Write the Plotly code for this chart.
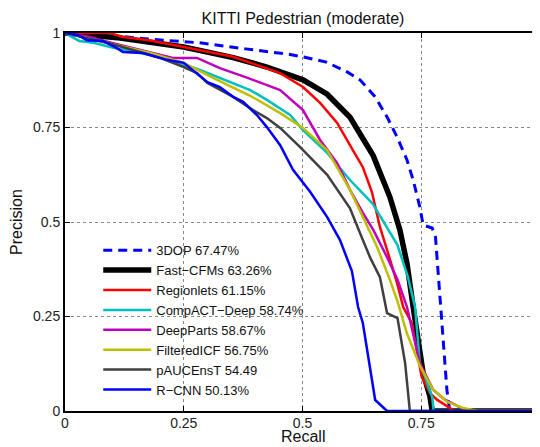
import plotly.graph_objects as go

names = ["3DOP 67.47%", "Fast\u2212CFMs 63.26%", "Regionlets 61.15%", "CompACT\u2212Deep 58.74%",
         "DeepParts 58.67%", "FilteredICF 56.75%", "pAUCEnsT 54.49", "R\u2212CNN 50.13%"]

x_3dop = [0, 0.05, 0.1, 0.175, 0.284, 0.38, 0.47, 0.50, 0.55, 0.594, 0.621, 0.653, 0.678, 0.699, 0.72, 0.733, 0.747, 0.754, 0.773, 0.78, 0.804, 0.81, 1.0]
y_3dop = [1, 0.997, 0.993, 0.984, 0.974, 0.958, 0.944, 0.937, 0.923, 0.897, 0.876, 0.831, 0.778, 0.725, 0.664, 0.611, 0.540, 0.492, 0.484, 0.46, 0.056, 0.0, 0.0]

x_fast = [0, 0.05, 0.116, 0.25, 0.354, 0.425, 0.48, 0.501, 0.552, 0.60, 0.649, 0.684, 0.705, 0.72, 0.733, 0.754, 0.768, 0.773, 1.0]
y_fast = [1, 0.995, 0.987, 0.963, 0.935, 0.91, 0.884, 0.876, 0.838, 0.777, 0.675, 0.566, 0.479, 0.39, 0.275, 0.10, 0.04, 0.0, 0.0]

x_reg = [0, 0.095, 0.12, 0.18, 0.25, 0.354, 0.453, 0.501, 0.537, 0.573, 0.606, 0.627, 0.646, 0.663, 0.68, 0.699, 0.712, 0.73, 0.751, 0.768, 0.783, 0.81, 0.82, 1.0]
y_reg = [1, 1.0, 0.99, 0.98, 0.963, 0.937, 0.894, 0.857, 0.815, 0.762, 0.69, 0.645, 0.58, 0.487, 0.418, 0.339, 0.275, 0.233, 0.09, 0.048, 0.03, 0.008, 0.0, 0.0]

x_comp = [0, 0.03, 0.06, 0.095, 0.18, 0.236, 0.284, 0.354, 0.39, 0.425, 0.453, 0.474, 0.501, 0.552, 0.60, 0.648, 0.70, 0.722, 0.737, 0.747, 0.773, 0.776, 1.0]
y_comp = [1, 0.979, 0.974, 0.963, 0.942, 0.923, 0.902, 0.868, 0.849, 0.823, 0.80, 0.783, 0.743, 0.683, 0.611, 0.548, 0.439, 0.354, 0.275, 0.127, 0.037, 0.0, 0.0]

x_deep = [0, 0.05, 0.095, 0.158, 0.227, 0.278, 0.326, 0.383, 0.453, 0.501, 0.537, 0.573, 0.60, 0.627, 0.649, 0.678, 0.70, 0.72, 0.747, 0.775, 0.80, 0.83, 0.85, 1.0]
y_deep = [1, 0.99, 0.975, 0.955, 0.934, 0.934, 0.907, 0.882, 0.849, 0.796, 0.717, 0.656, 0.585, 0.524, 0.479, 0.407, 0.347, 0.275, 0.127, 0.056, 0.03, 0.011, 0.0, 0.0]

x_filt = [0, 0.05, 0.095, 0.18, 0.25, 0.32, 0.39, 0.453, 0.501, 0.552, 0.60, 0.627, 0.657, 0.684, 0.70, 0.72, 0.747, 0.775, 0.804, 0.838, 0.87, 1.0]
y_filt = [1, 0.985, 0.972, 0.947, 0.921, 0.876, 0.834, 0.788, 0.749, 0.69, 0.585, 0.513, 0.434, 0.347, 0.29, 0.205, 0.12, 0.056, 0.025, 0.008, 0.0, 0.0]

x_pauc = [0, 0.05, 0.095, 0.143, 0.2, 0.25, 0.278, 0.3, 0.354, 0.396, 0.425, 0.453, 0.495, 0.552, 0.60, 0.621, 0.642, 0.663, 0.678, 0.70, 0.716, 0.726, 1.0]
y_pauc = [1, 0.985, 0.972, 0.955, 0.934, 0.91, 0.894, 0.868, 0.831, 0.796, 0.775, 0.749, 0.698, 0.625, 0.536, 0.471, 0.407, 0.354, 0.259, 0.246, 0.127, 0.0, 0.0]

x_rcnn = [0, 0.027, 0.046, 0.08, 0.109, 0.122, 0.164, 0.215, 0.25, 0.3, 0.326, 0.354, 0.375, 0.404, 0.425, 0.453, 0.48, 0.516, 0.552, 0.579, 0.604, 0.617, 0.627, 0.653, 0.678, 1.0]
y_rcnn = [1, 0.995, 0.981, 0.979, 0.96, 0.95, 0.947, 0.929, 0.921, 0.87, 0.857, 0.831, 0.818, 0.783, 0.751, 0.703, 0.638, 0.580, 0.513, 0.452, 0.370, 0.275, 0.233, 0.029, 0.0, 0.0]

xs = [x_3dop, x_fast, x_reg, x_comp, x_deep, x_filt, x_pauc, x_rcnn]
ys = [y_3dop, y_fast, y_reg, y_comp, y_deep, y_filt, y_pauc, y_rcnn]
colors = ["#0000ff", "#000000", "#ff0000", "#00bfbf", "#bf00bf", "#bfbf00", "#404040", "#0000ff"]
widths = [3, 5.5, 2.5, 2.5, 2.5, 2.5, 2.5, 2.5]
dashes = ["9px,6px", "solid", "solid", "solid", "solid", "solid", "solid", "solid"]

tick_vals = [0, 0.25, 0.5, 0.75, 1]
tick_text = ["0", "0.25", "0.5", "0.75", "1"]

FONT = "Liberation Sans, Arial, sans-serif"

fig = go.Figure()
for n, x, y, c, w, d in zip(names, xs, ys, colors, widths, dashes):
    fig.add_trace(go.Scatter(x=x, y=y, mode="lines", name=n,
                             line=dict(color=c, width=w, dash=d)))

axis_common = dict(
    range=[0, 1], tickvals=tick_vals, ticktext=tick_text,
    ticks="inside", ticklen=5, tickcolor="black",
    showline=True, linecolor="black", linewidth=2,
    showgrid=True, gridcolor="#888888", griddash="dot", gridwidth=1,
    zeroline=False, automargin=False,
    tickfont=dict(size=14, color="#222", family=FONT),
)

fig.update_layout(
    width=532, height=439,
    margin=dict(l=57, r=0, t=25, b=36),
    paper_bgcolor="white", plot_bgcolor="white",
    title=dict(text="KITTI Pedestrian (moderate)", x=0.5545, xanchor="center",
               y=0.977, yanchor="middle", font=dict(size=16, family=FONT, color="#111")),
    xaxis=dict(axis_common, mirror="ticks", ticklabelstandoff=-2),
    yaxis=dict(axis_common, title=dict(text="Precision", font=dict(size=16, family=FONT, color="#111"), standoff=6)),
    legend=dict(x=0.07, y=0.465, xanchor="left", yanchor="top",
                bgcolor="rgba(255,255,255,0)", borderwidth=0,
                font=dict(size=13, family=FONT, color="#111"), tracegroupgap=0,
                itemwidth=48),
    showlegend=True,
    annotations=[dict(text="Recall", x=0.5, y=-0.067, xref="paper", yref="paper",
                      xanchor="center", yanchor="middle", showarrow=False,
                      font=dict(size=16, family=FONT, color="#111"))],
)

fig.write_html("out.html")
